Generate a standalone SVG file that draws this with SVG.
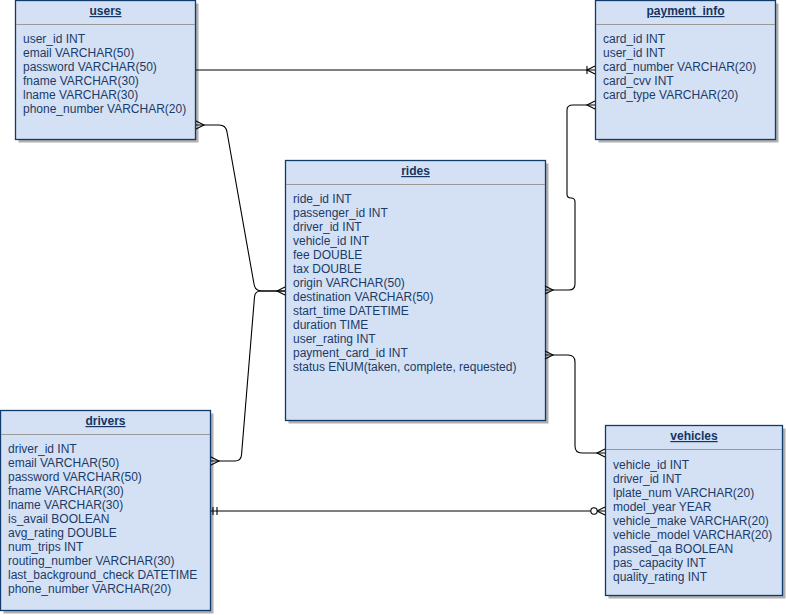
<svg xmlns="http://www.w3.org/2000/svg" width="786" height="615" viewBox="0 0 786 615">
  <style>
    .shadow { fill: #b0b0b0; }
    .box { fill: #d4e1f5; stroke: #0f3a6b; stroke-width: 1.3; }
    .sep { stroke: #9a9a9a; stroke-width: 1; }
    .title { font-family: "Liberation Sans", Arial, sans-serif; font-size: 12px; font-weight: bold; text-decoration: underline; fill: #153563; text-anchor: middle; }
    .field { font-family: "Liberation Sans", Arial, sans-serif; font-size: 12px; fill: #1b3b68; }
    .edge { fill: none; stroke: #000; stroke-width: 1.1; }
    .mk { fill: none; stroke: #000; stroke-width: 1.1; }
  </style>
  <defs>
    <!-- crow's foot (many) -->
    <marker id="many" markerUnits="userSpaceOnUse" markerWidth="20" markerHeight="20" refX="0" refY="0" viewBox="-12 -10 14 20" orient="auto-start-reverse" overflow="visible">
      <path class="mk" d="M0,-4 L-8,0 L0,4"/>
    </marker>
    <!-- one or many -->
    <marker id="oneMany" markerUnits="userSpaceOnUse" markerWidth="20" markerHeight="20" refX="0" refY="0" viewBox="-12 -10 14 20" orient="auto-start-reverse" overflow="visible">
      <path class="mk" d="M0,-4 L-8,0 L0,4 M-8,-4 V4"/>
    </marker>
    <!-- zero or many -->
    <marker id="zeroMany" markerUnits="userSpaceOnUse" markerWidth="24" markerHeight="20" refX="0" refY="0" viewBox="-16 -10 18 20" orient="auto-start-reverse" overflow="visible">
      <path class="mk" d="M0,-4 L-8,0 L0,4"/>
      <circle cx="-11" cy="0" r="3.2" fill="#fff" stroke="#000" stroke-width="1.1"/>
    </marker>
    <!-- exactly one -->
    <marker id="mandOne" markerUnits="userSpaceOnUse" markerWidth="20" markerHeight="20" refX="0" refY="0" viewBox="-12 -10 14 20" orient="auto-start-reverse" overflow="visible">
      <path class="mk" d="M-2,-4 V4 M-6,-4 V4"/>
    </marker>
  </defs>

  <g id="users">
    <rect class="shadow" x="18.5" y="3.5" width="180" height="139"/>
    <rect class="box" x="15.5" y="0.5" width="180" height="139"/>
    <line class="sep" x1="16" y1="24.5" x2="195" y2="24.5"/>
    <text class="title" x="105.5" y="15">users</text>
    <text class="field" x="23" y="43">user_id INT</text>
    <text class="field" x="23" y="57">email VARCHAR(50)</text>
    <text class="field" x="23" y="71">password VARCHAR(50)</text>
    <text class="field" x="23" y="85">fname VARCHAR(30)</text>
    <text class="field" x="23" y="99">lname VARCHAR(30)</text>
    <text class="field" x="23" y="113">phone_number VARCHAR(20)</text>
  </g>

  <g id="payment_info">
    <rect class="shadow" x="598.5" y="3.5" width="180" height="139"/>
    <rect class="box" x="595.5" y="0.5" width="180" height="139"/>
    <line class="sep" x1="596" y1="24.5" x2="775" y2="24.5"/>
    <text class="title" x="685.5" y="15">payment_info</text>
    <text class="field" x="603" y="43">card_id INT</text>
    <text class="field" x="603" y="57">user_id INT</text>
    <text class="field" x="603" y="71">card_number VARCHAR(20)</text>
    <text class="field" x="603" y="85">card_cvv INT</text>
    <text class="field" x="603" y="99">card_type VARCHAR(20)</text>
  </g>

  <g id="rides">
    <rect class="shadow" x="288.5" y="163.5" width="260" height="260"/>
    <rect class="box" x="285.5" y="160.5" width="260" height="260"/>
    <line class="sep" x1="286" y1="184.5" x2="545" y2="184.5"/>
    <text class="title" x="415.5" y="175">rides</text>
    <text class="field" x="293" y="203">ride_id INT</text>
    <text class="field" x="293" y="217">passenger_id INT</text>
    <text class="field" x="293" y="231">driver_id INT</text>
    <text class="field" x="293" y="245">vehicle_id INT</text>
    <text class="field" x="293" y="259">fee DOUBLE</text>
    <text class="field" x="293" y="273">tax DOUBLE</text>
    <text class="field" x="293" y="287">origin VARCHAR(50)</text>
    <text class="field" x="293" y="301">destination VARCHAR(50)</text>
    <text class="field" x="293" y="315">start_time DATETIME</text>
    <text class="field" x="293" y="329">duration TIME</text>
    <text class="field" x="293" y="343">user_rating INT</text>
    <text class="field" x="293" y="357">payment_card_id INT</text>
    <text class="field" x="293" y="371">status ENUM(taken, complete, requested)</text>
  </g>

  <g id="drivers">
    <rect class="shadow" x="3.5" y="413.5" width="210" height="200"/>
    <rect class="box" x="0.5" y="410.5" width="210" height="200"/>
    <line class="sep" x1="1" y1="434.5" x2="210" y2="434.5"/>
    <text class="title" x="105.5" y="425">drivers</text>
    <text class="field" x="8" y="453">driver_id INT</text>
    <text class="field" x="8" y="467">email VARCHAR(50)</text>
    <text class="field" x="8" y="481">password VARCHAR(50)</text>
    <text class="field" x="8" y="495">fname VARCHAR(30)</text>
    <text class="field" x="8" y="509">lname VARCHAR(30)</text>
    <text class="field" x="8" y="523">is_avail BOOLEAN</text>
    <text class="field" x="8" y="537">avg_rating DOUBLE</text>
    <text class="field" x="8" y="551">num_trips INT</text>
    <text class="field" x="8" y="565">routing_number VARCHAR(30)</text>
    <text class="field" x="8" y="579">last_background_check DATETIME</text>
    <text class="field" x="8" y="593">phone_number VARCHAR(20)</text>
  </g>

  <g id="vehicles">
    <rect class="shadow" x="608.5" y="428.5" width="177" height="170"/>
    <rect class="box" x="605.5" y="425.5" width="177" height="170"/>
    <line class="sep" x1="606" y1="449.5" x2="782" y2="449.5"/>
    <text class="title" x="694" y="440">vehicles</text>
    <text class="field" x="613" y="469">vehicle_id INT</text>
    <text class="field" x="613" y="483">driver_id INT</text>
    <text class="field" x="613" y="497">lplate_num VARCHAR(20)</text>
    <text class="field" x="613" y="511">model_year YEAR</text>
    <text class="field" x="613" y="525">vehicle_make VARCHAR(20)</text>
    <text class="field" x="613" y="539">vehicle_model VARCHAR(20)</text>
    <text class="field" x="613" y="553">passed_qa BOOLEAN</text>
    <text class="field" x="613" y="567">pas_capacity INT</text>
    <text class="field" x="613" y="581">quality_rating INT</text>
  </g>

  <!-- relationship lines sit above the tables so the end symbols stay visible over the shadows -->
  <g id="connectors">
    <!-- users 1 : N payment_info -->
    <path class="edge" d="M196,70 H595" marker-end="url(#oneMany)"/>
    <!-- users : rides -->
    <path class="edge" d="M196,125 H219 Q226,125 227,132 L254,284 Q255,291 262,291 H285" marker-start="url(#many)" marker-end="url(#many)"/>
    <!-- drivers : rides -->
    <path class="edge" d="M211,461 H235 Q241,461 241.5,455 L254.5,297 Q255,291 261,291 H285" marker-start="url(#many)"/>
    <!-- rides : payment_info -->
    <path class="edge" d="M545,290 H569 Q575,290 575,284 V202 Q575,198 571,198 Q567,198 567,194 V110 Q567,105 573,105 H595" marker-start="url(#many)" marker-end="url(#many)"/>
    <!-- rides : vehicles -->
    <path class="edge" d="M545,355 H568 Q575,355 575,362 V446 Q575,453 582,453 H605" marker-start="url(#many)" marker-end="url(#many)"/>
    <!-- drivers 1 : 0..N vehicles -->
    <path class="edge" d="M211,511 H605" marker-start="url(#mandOne)" marker-end="url(#zeroMany)"/>
  </g>
</svg>
